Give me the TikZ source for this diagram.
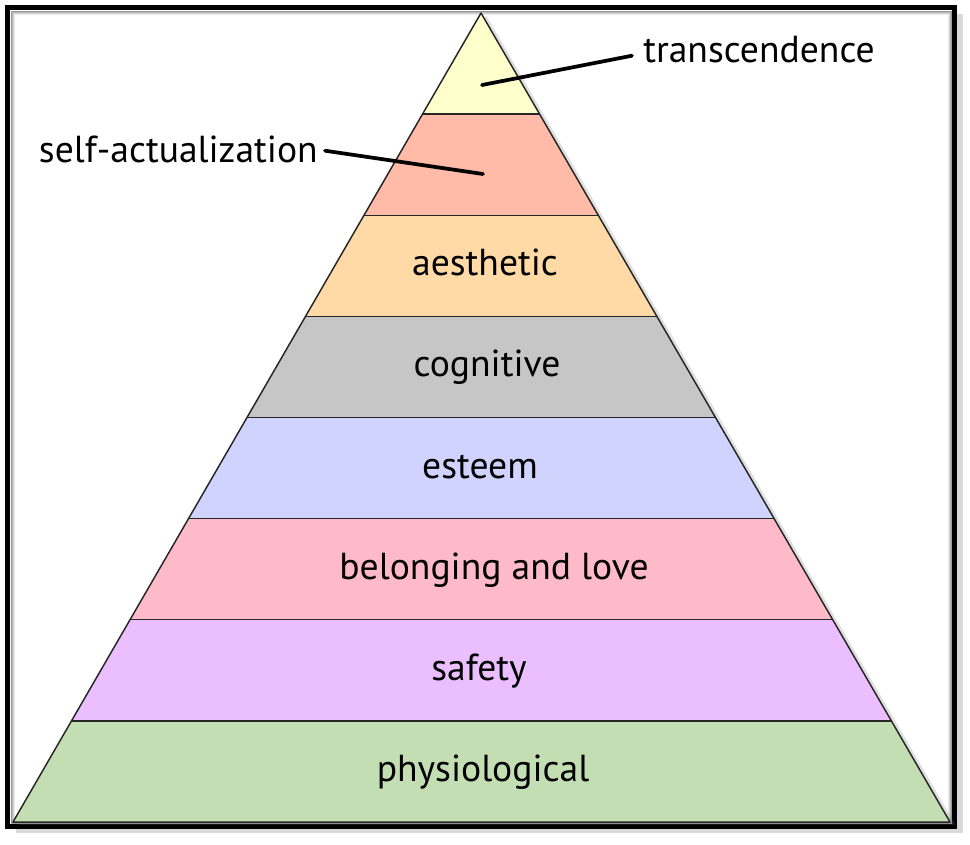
\documentclass[tikz,border=0pt]{standalone}
\usepackage{fontspec}
\setmainfont{PT Sans}
\usepackage{xcolor}
\usepackage{tikz}
\usetikzlibrary{calc}
\usetikzlibrary{shadows}

\definecolor{transc}{HTML}{FFFFCC}
\definecolor{selfact}{HTML}{FFBAA8}
\definecolor{aesth}{HTML}{FFD9A6}
\definecolor{cogn}{HTML}{C6C6C6}
\definecolor{estm}{HTML}{D1D3FF}
\definecolor{belong}{HTML}{FFBACA}
\definecolor{safe}{HTML}{EBBFFF}
\definecolor{physio}{HTML}{C4DEB4}

\begin{document}
\begin{tikzpicture}[x=0.75pt,y=-0.75pt,
	band/.style={draw=black!85,line width=1.1pt},
	level/.style={font=\fontsize{28.2}{33}\selectfont,inner sep=0pt,anchor=base},
	leader/.style={line width=2.8pt,black,line cap=round}]
	\useasboundingbox (0,0) rectangle (970,844);
	% frame
	\draw[line width=4.2pt,fill=white,drop shadow={shadow xshift=6pt,shadow yshift=-5pt,opacity=.3}] (7.5,7.5) rectangle (954.5,826.5);
	\foreach \d/\c in {3.5/40,4.5/28,5.5/17,6.5/8}
		\draw[black!\c,line width=0.75pt] ({7.5+\d},{7.5+\d}) rectangle ({954.5-\d},{826.5-\d});
	% pyramid
	\coordinate (apex) at (481,13);
	\coordinate (base left) at (13,822);
	\coordinate (base right) at (950,822);
	\path[fill=white,drop shadow={shadow xshift=4pt,shadow yshift=-2pt,opacity=.25}] (apex)--(base left)--(base right)--cycle;
	\begin{scope}
		\clip (apex)--(base left)--(base right)--cycle;
		\foreach \c [count=\i from 0] in {transc,selfact,aesth,cogn,estm,belong,safe,physio}
			\fill[\c] (0,{13+\i*101.125}) rectangle (970,{13+(\i+1)*101.125});
		\foreach \i in {1,...,7}
			\draw[band] (0,{13+\i*101.125}) -- (970,{13+\i*101.125});
	\end{scope}
	\draw[band,line join=round] (apex)--(base left)--(base right)--cycle;
	% levels
	\foreach \t/\n/\x [count=\i from 2] in {aesthetic/aesthetic/485, cognitive/cognitive/487, esteem/esteem/480, belonging and love/belonging/494, safety/safety/479, physiological/physiological/483}
		\node[level] (\n) at (\x,{13+(\i+0.5)*101.125+10}) {\t};
	\node[level,anchor=base west] (transcendence) at (643,62.7) {transcendence};
	\node[level,anchor=base east] (self actualization) at (318,162.7) {self-actualization};
	\coordinate (transc point) at (482,85);
	\coordinate (self point) at (483,174);
	\draw[leader] (transc point) -- ($(transcendence.base west)+(-11,-7)$);
	\draw[leader] (self point) -- ($(self actualization.base east)+(7,-12)$);
\end{tikzpicture}
\end{document}
